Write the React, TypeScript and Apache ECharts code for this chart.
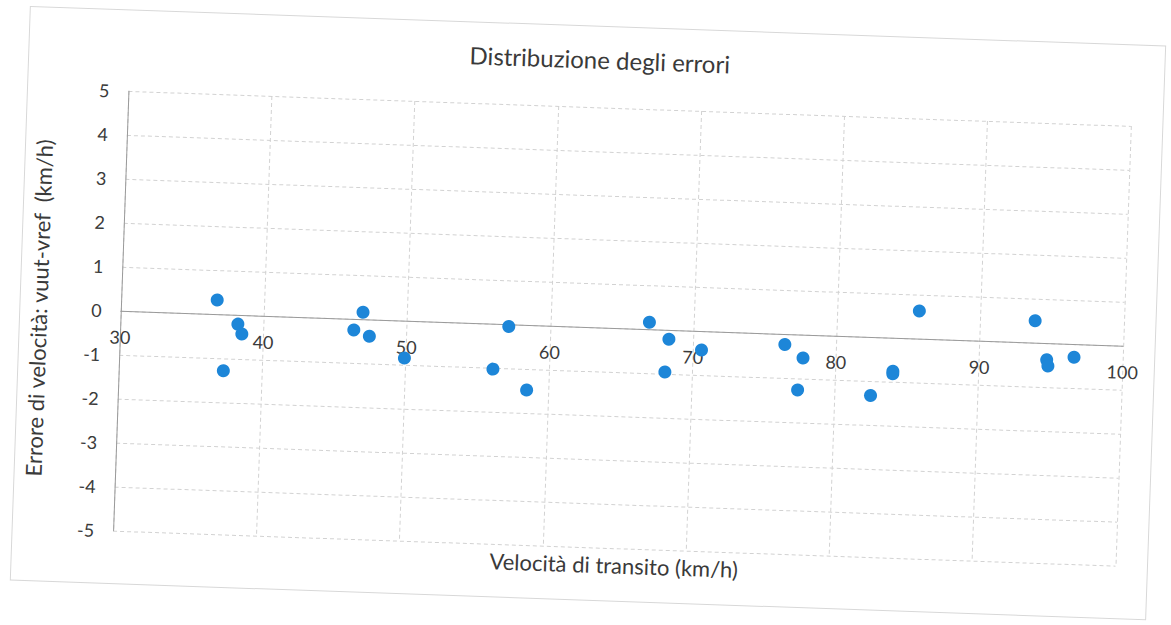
import React, { useEffect, useRef } from "react";
import * as echarts from "echarts";

const titleText = "Distribuzione degli errori";
const xName = "Velocità di transito (km/h)";
const yName = "Errore di velocità: vuut-vref  (km/h)";

const speeds = [36.7, 38.2, 38.5, 37.3, 46.9, 46.3, 47.4, 49.9, 57.1, 56.1, 58.5, 66.9, 68.3, 68.1, 70.6, 76.4, 77.7, 77.4, 82.5, 84.0, 84.0, 85.7, 93.8, 94.7, 94.8, 96.6];
const errors = [0.32, -0.21, -0.43, -1.28, 0.16, -0.25, -0.38, -0.85, -0.05, -1.03, -1.48, 0.16, -0.21, -0.96, -0.43, -0.24, -0.53, -1.26, -1.33, -0.76, -0.82, 0.63, 0.5, -0.38, -0.52, -0.3];

const FONT = "Lato, 'Open Sans', sans-serif";

export default function App() {
  const ref = useRef<HTMLDivElement>(null);
  useEffect(() => {
    if (!ref.current) return;
    const chart = echarts.init(ref.current, undefined, { renderer: "svg" });
    const points = speeds.map((s, i) => [s, errors[i]]);
    chart.setOption({
      animation: false,
      backgroundColor: "#ffffff",
      textStyle: { fontFamily: FONT },
      title: {
        text: titleText,
        left: 586,
        top: 42,
        textAlign: "center",
        textStyle: { fontFamily: FONT, fontSize: 24, fontWeight: "normal", color: "#3a3a3a" },
      },
      graphic: [
        {
          type: "rect",
          shape: { x: 20, y: 26, width: 1136, height: 574 },
          style: { fill: "none", stroke: "#d8d8d8", lineWidth: 1 },
          silent: true,
          z: -1,
        },
      ],
      grid: { left: 121, right: 47, top: 107, bottom: 78, containLabel: false, outerBoundsMode: "none" },
      xAxis: {
        type: "value",
        min: 30,
        max: 100,
        interval: 10,
        position: "bottom",
        offset: -220,
        name: xName,
        nameLocation: "middle",
        nameGap: 226,
        nameTextStyle: { fontFamily: FONT, fontSize: 22, color: "#3a3a3a" },
        axisLine: { show: true, onZero: false, lineStyle: { color: "#9a9a9a", width: 1 } },
        axisTick: { show: false },
        axisLabel: { margin: 17, fontSize: 18, color: "#3a3a3a", fontFamily: FONT },
        splitLine: { show: true, lineStyle: { color: "#d2d2d2", type: [4, 3], width: 1 } },
      },
      yAxis: {
        type: "value",
        min: -5,
        max: 5,
        interval: 1,
        name: yName,
        nameLocation: "middle",
        nameRotate: 90,
        nameGap: 71,
        nameTextStyle: { fontFamily: FONT, fontSize: 22, color: "#3a3a3a" },
        axisLine: { show: true, lineStyle: { color: "#9a9a9a", width: 1 } },
        axisTick: { show: false },
        axisLabel: { margin: 19, fontSize: 18, color: "#3a3a3a", fontFamily: FONT },
        splitLine: { show: true, lineStyle: { color: "#d2d2d2", type: [4, 3], width: 1 } },
      },
      series: [
        {
          type: "scatter",
          data: points,
          symbol: "circle",
          symbolSize: 13,
          itemStyle: { color: "#1d86d8", opacity: 1 },
        },
      ],
    });
    return () => chart.dispose();
  }, []);

  return (
    <div style={{ position: "fixed", left: 0, top: 0, width: 1171, height: 625, overflow: "hidden", background: "#fff" }}>
      <div
        style={{
          position: "absolute",
          left: 0,
          top: 0,
          width: 1171,
          height: 625,
          transform: "rotate(2deg)",
          transformOrigin: "585.5px 312.5px",
        }}
      >
        <div ref={ref} style={{ width: 1171, height: 625 }} />
      </div>
    </div>
  );
}
